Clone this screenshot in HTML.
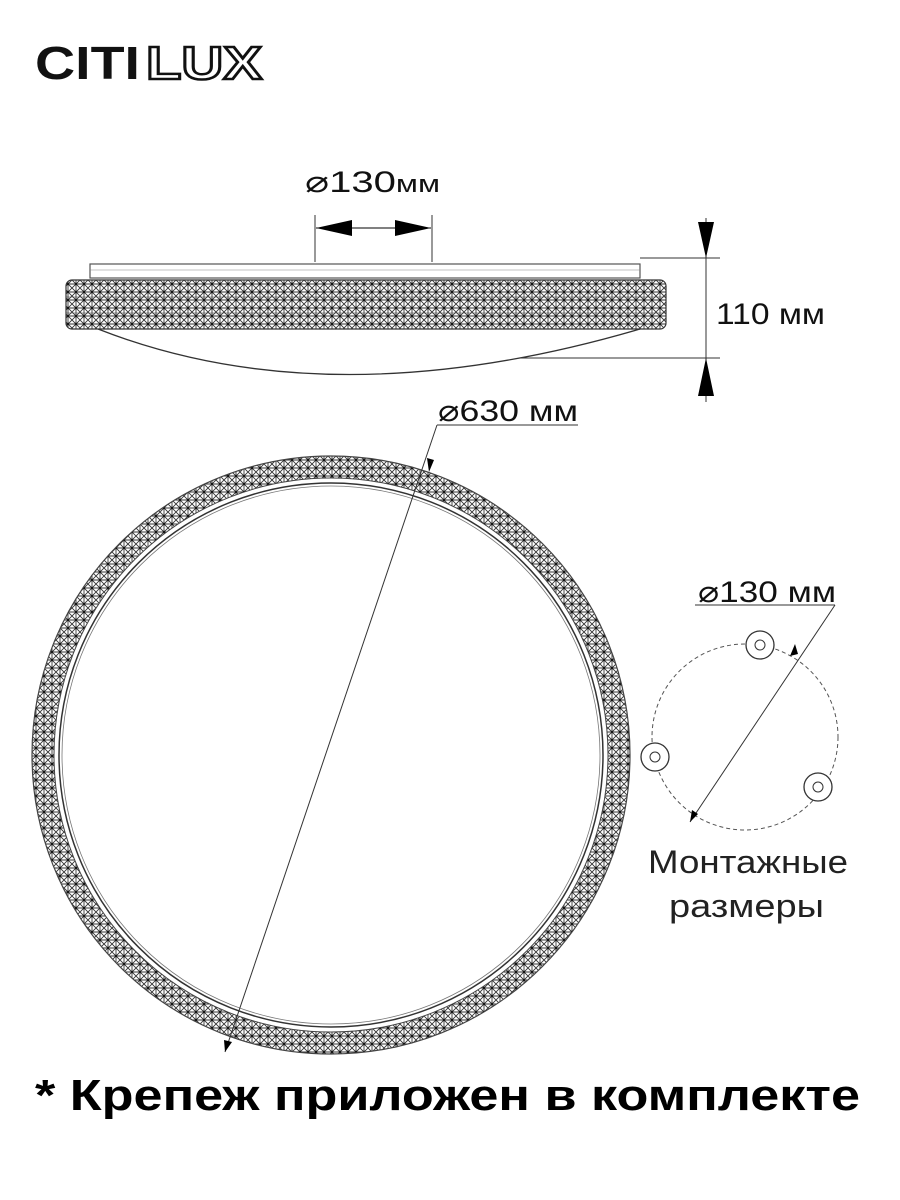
<!DOCTYPE html>
<html><head><meta charset="utf-8"><style>
html,body{margin:0;padding:0;background:#fff}
svg{display:block}
text{font-family:"Liberation Sans",sans-serif}
</style></head><body>
<svg width="900" height="1200" viewBox="0 0 900 1200" xmlns="http://www.w3.org/2000/svg">
<defs>
<pattern id="cr" width="8" height="8" patternUnits="userSpaceOnUse">
<rect width="8" height="8" fill="#fff"/>
<path d="M0 0L8 8M8 0L0 8M4 0V8M0 4H8" stroke="#333" stroke-width="0.9"/>
<circle cx="4" cy="4" r="1.1" fill="#111"/>
</pattern>
</defs>
<!-- logo -->
<text x="35" y="79" font-size="46" font-weight="bold" fill="#111" textLength="105" lengthAdjust="spacingAndGlyphs">CITI</text>
<text x="146" y="79" font-size="46" font-weight="bold" fill="#fff" stroke="#111" stroke-width="2.5" textLength="116" lengthAdjust="spacingAndGlyphs">LUX</text>

<!-- side view -->
<rect x="90" y="264" width="550" height="14" fill="none" stroke="#555" stroke-width="1.2"/>
<line x1="90" y1="270" x2="640" y2="270" stroke="#888" stroke-width="0.6"/>
<rect x="66" y="280" width="600" height="49" rx="6" fill="url(#cr)" stroke="#333" stroke-width="1.2"/>
<line x1="66" y1="297" x2="666" y2="297" stroke="#333" stroke-width="0.6"/>
<line x1="66" y1="313" x2="666" y2="313" stroke="#333" stroke-width="0.6"/>
<path d="M98 329 Q330 420 640 329" fill="none" stroke="#333" stroke-width="1.3"/>
<!-- 130 top dim -->
<text x="305" y="192" font-size="30" fill="#111" textLength="135" lengthAdjust="spacingAndGlyphs">⌀130<tspan font-size="24">мм</tspan></text>
<line x1="315" y1="215" x2="315" y2="262" stroke="#333" stroke-width="1"/>
<line x1="432" y1="215" x2="432" y2="262" stroke="#333" stroke-width="1"/>
<line x1="316" y1="228" x2="431" y2="228" stroke="#000" stroke-width="1"/>
<path d="M316 228L352 220L352 236z M431 228L395 220L395 236z" fill="#000"/>
<!-- 110 dim -->
<line x1="640" y1="258" x2="720" y2="258" stroke="#333" stroke-width="1"/>
<line x1="520" y1="358" x2="720" y2="358" stroke="#333" stroke-width="1"/>
<line x1="706" y1="218" x2="706" y2="402" stroke="#333" stroke-width="1"/>
<path d="M706 258L698 222L714 222z M706 358L698 396L714 396z" fill="#000"/>
<text x="716" y="324" font-size="30" fill="#111" textLength="109" lengthAdjust="spacingAndGlyphs">110 мм</text>

<!-- big ring -->
<circle cx="331" cy="755" r="288" fill="none" stroke="url(#cr)" stroke-width="22"/>
<circle cx="331" cy="755" r="299" fill="none" stroke="#444" stroke-width="1.2"/>
<circle cx="331" cy="755" r="277" fill="none" stroke="#444" stroke-width="1"/>
<circle cx="331" cy="755" r="272" fill="none" stroke="#333" stroke-width="1.5"/>
<circle cx="331" cy="755" r="269" fill="none" stroke="#777" stroke-width="0.8"/>
<line x1="437" y1="425" x2="225" y2="1052" stroke="#333" stroke-width="1"/>
<path d="M429 472L427 458L434 460z" fill="#000"/>
<path d="M225 1052L224 1040L232 1042z" fill="#000"/>
<line x1="437" y1="425" x2="578" y2="425" stroke="#333" stroke-width="1"/>
<text x="438" y="421" font-size="30" fill="#111" textLength="140" lengthAdjust="spacingAndGlyphs">⌀630 мм</text>

<!-- mounting -->
<circle cx="745" cy="737" r="93" fill="none" stroke="#555" stroke-width="1" stroke-dasharray="4 3"/>
<g fill="#fff" stroke="#333" stroke-width="1.3">
<circle cx="760" cy="645" r="14"/><circle cx="655" cy="757" r="14"/><circle cx="818" cy="787" r="14"/>
</g>
<g fill="none" stroke="#333" stroke-width="1">
<circle cx="760" cy="645" r="5"/><circle cx="655" cy="757" r="5"/><circle cx="818" cy="787" r="5"/>
</g>
<line x1="835" y1="605" x2="690" y2="822" stroke="#333" stroke-width="1"/>
<line x1="695" y1="605" x2="835" y2="605" stroke="#333" stroke-width="1"/>
<path d="M795 644L790 656L798 654z M690 822L692 810L698 814z" fill="#000"/>
<text x="698" y="602" font-size="30" fill="#111" textLength="138" lengthAdjust="spacingAndGlyphs">⌀130 мм</text>
<text x="648" y="873" font-size="32" fill="#222" textLength="200" lengthAdjust="spacingAndGlyphs">Монтажные</text>
<text x="669" y="917" font-size="32" fill="#222" textLength="155" lengthAdjust="spacingAndGlyphs">размеры</text>

<text x="35" y="1110" font-size="44" font-weight="bold" fill="#000" textLength="825" lengthAdjust="spacingAndGlyphs">* Крепеж приложен в комплекте</text>
</svg>
</body></html>
